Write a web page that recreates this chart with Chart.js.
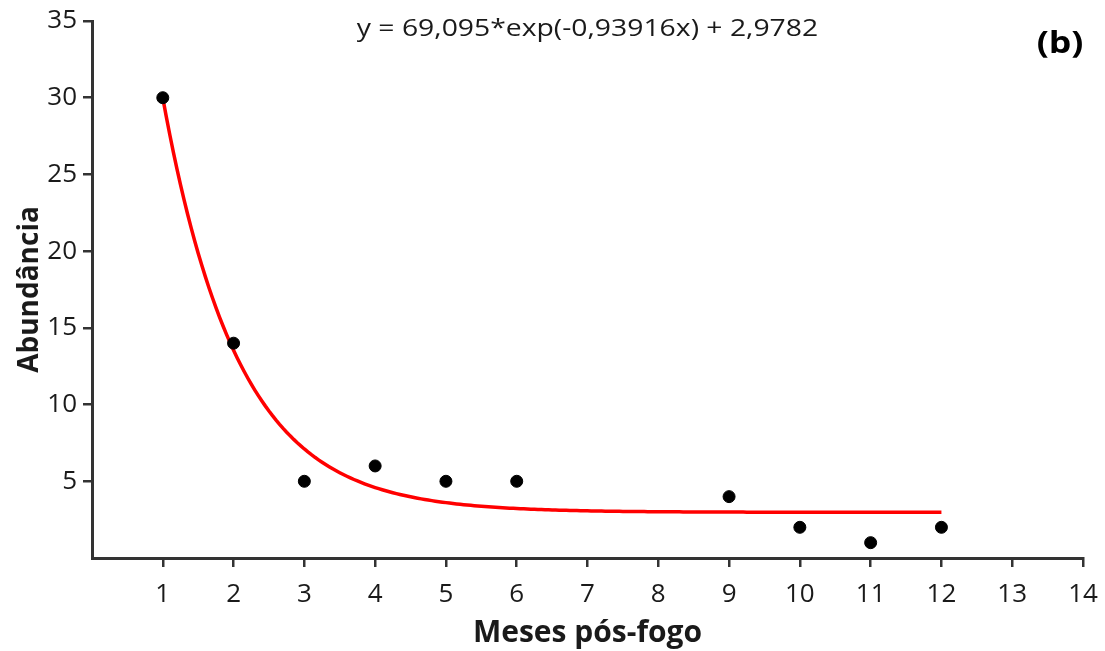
<!DOCTYPE html>
<html>
<head>
<meta charset="utf-8">
<script src="https://cdn.jsdelivr.net/npm/chart.js@4/dist/chart.umd.min.js"></script>
<style>
  html, body { margin: 0; padding: 0; background: #ffffff; }
  #wrap { width: 1105px; height: 651px; position: relative; }
</style>
</head>
<body>
<div id="wrap"><canvas id="c" width="1105" height="651"></canvas></div>
<script>
// Observed abundance per month after fire
const months = [1, 2, 3, 4, 5, 6, 9, 10, 11, 12];
const abundance = [30, 14, 5, 6, 5, 5, 4, 2, 1, 2];

// Fitted exponential decay: y = a*exp(b*x) + c
const fitA = 69.095;
const fitB = -0.93916;
const fitC = 2.9782;
const fitLabel = 'y = 69,095*exp(-0,93916x) + 2,9782';
const fitFrom = 1, fitTo = 12, fitStep = 0.05;

const xTicks = [1, 2, 3, 4, 5, 6, 7, 8, 9, 10, 11, 12, 13, 14];
const yTicks = [5, 10, 15, 20, 25, 30, 35];

const fitPoints = [];
for (let i = 0; fitFrom + i * fitStep <= fitTo + 1e-9; i++) {
  const x = fitFrom + i * fitStep;
  fitPoints.push({ x: x, y: fitA * Math.exp(fitB * x) + fitC });
}
const scatterPoints = months.map((m, i) => ({ x: m, y: abundance[i] }));

const FONT = "'Open Sans', 'DejaVu Sans', sans-serif";
const AXIS = '#333333';
const TEXT = '#1a1a1a';

// Text drawn slightly widened horizontally
function wideText(ctx, text, cx, cy, font, sx) {
  ctx.save();
  ctx.font = font;
  ctx.textAlign = 'center';
  ctx.textBaseline = 'middle';
  ctx.translate(cx, cy);
  ctx.scale(sx, 1);
  ctx.fillText(text, 0, 0);
  ctx.restore();
}

const annotations = {
  id: 'annotations',
  afterDraw(chart) {
    const ctx = chart.ctx;
    const area = chart.chartArea;
    ctx.save();
    ctx.fillStyle = TEXT;
    wideText(ctx, fitLabel, (area.left + area.right) / 2, 29, '24px ' + FONT, 1.18);
    ctx.fillStyle = '#000000';
    wideText(ctx, '(b)', 1060, 44, 'bold 31px ' + FONT, 1.15);
    ctx.restore();
  }
};

new Chart(document.getElementById('c'), {
  type: 'scatter',
  data: {
    datasets: [
      {
        label: 'ajuste',
        type: 'line',
        data: fitPoints,
        borderColor: '#ff0000',
        borderWidth: 3.5,
        pointRadius: 0,
        fill: false,
        tension: 0,
        order: 2
      },
      {
        label: 'abundância',
        data: scatterPoints,
        backgroundColor: '#000000',
        borderColor: '#000000',
        pointRadius: 6,
        pointHoverRadius: 6,
        order: 1
      }
    ]
  },
  options: {
    responsive: false,
    animation: false,
    events: [],
    layout: { padding: { top: 21, right: 22, left: 0, bottom: 0 } },
    plugins: { legend: { display: false }, tooltip: { enabled: false } },
    scales: {
      x: {
        type: 'linear',
        min: 0,
        max: 14,
        afterBuildTicks(axis) { axis.ticks = [0].concat(xTicks).map(v => ({ value: v })); },
        afterFit(axis) {
          axis.height = 93;
          axis.paddingLeft = 0;
          axis.paddingRight = 0;
        },
        ticks: {
          color: TEXT,
          font: { family: FONT, size: 26 },
          padding: 12,
          callback: v => (v === 0 ? '' : String(v))
        },
        grid: {
          drawOnChartArea: false,
          drawTicks: true,
          tickLength: 9,
          lineWidth: 2.5,
          color: c => (c.tick && c.tick.value === 0 ? 'rgba(0,0,0,0)' : AXIS)
        },
        border: { display: true, color: AXIS, width: 3 },
        title: {
          display: true,
          text: 'Meses pós-fogo',
          color: TEXT,
          font: { family: FONT, size: 30, weight: 'bold' },
          padding: { top: 0, bottom: 0 }
        }
      },
      y: {
        type: 'linear',
        min: 0,
        max: 35,
        afterBuildTicks(axis) { axis.ticks = [0].concat(yTicks).map(v => ({ value: v })); },
        afterFit(axis) {
          axis.width = 92;
          axis.paddingTop = 0;
          axis.paddingBottom = 0;
        },
        ticks: {
          color: TEXT,
          font: { family: FONT, size: 26 },
          padding: 6,
          callback: v => (v === 0 ? '' : String(v))
        },
        grid: {
          drawOnChartArea: false,
          drawTicks: true,
          tickLength: 9,
          lineWidth: 2.5,
          color: c => (c.tick && c.tick.value === 0 ? 'rgba(0,0,0,0)' : AXIS)
        },
        border: { display: true, color: AXIS, width: 3 },
        title: {
          display: true,
          text: 'Abundância',
          color: TEXT,
          font: { family: FONT, size: 28, weight: 'bold' },
          padding: { top: 13, bottom: 0 }
        }
      }
    }
  },
  plugins: [annotations]
});
</script>
</body>
</html>
